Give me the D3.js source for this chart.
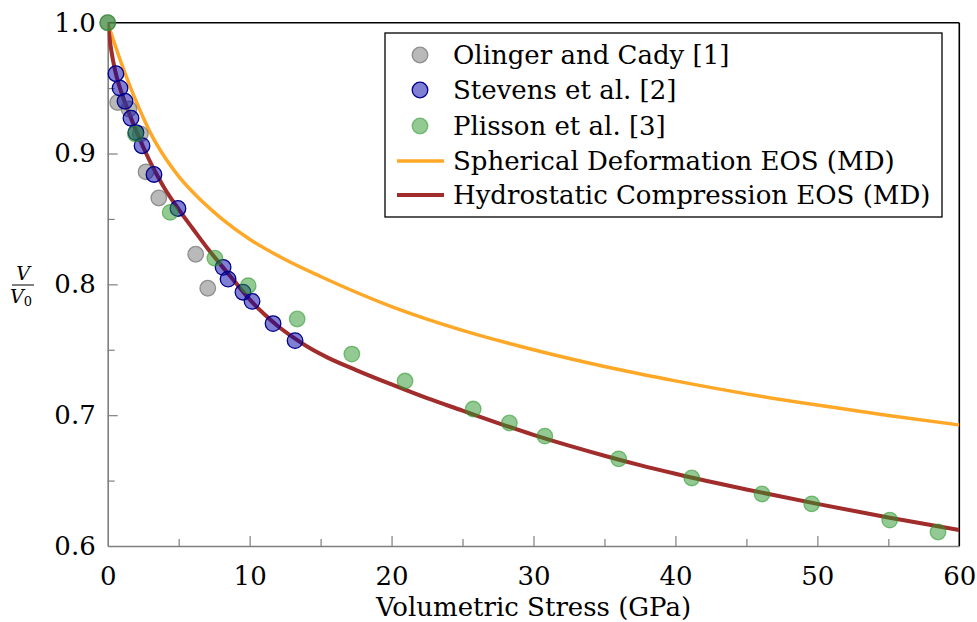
<!DOCTYPE html>
<html>
<head>
<meta charset="utf-8">
<script src="https://cdn.jsdelivr.net/npm/d3@7"></script>
<style>
  html, body { margin: 0; padding: 0; background: #fff; }
  svg { display: block; }
  text { font-family: "DejaVu Serif", serif; fill: #000; }
</style>
</head>
<body>
<svg id="chart" width="977" height="622"></svg>
<script>
// ---- data ----
const olingerX = [0, 0.7, 1.5, 2.3, 2.7, 3.6, 6.2, 7.05];
const olingerY = [1.0, 0.939, 0.934, 0.915, 0.886, 0.866, 0.823, 0.797];

const stevensX = [0.58, 0.87, 1.22, 1.64, 1.99, 2.42, 3.26, 4.95, 8.13, 8.48, 9.53, 10.17, 11.65, 13.2];
const stevensY = [0.961, 0.950, 0.940, 0.927, 0.916, 0.906, 0.884, 0.858, 0.813, 0.804, 0.794, 0.787, 0.770, 0.757];

const plissonX = [0, 1.95, 4.4, 7.55, 9.9, 13.35, 17.2, 20.95, 25.75, 28.3, 30.8, 36.0, 41.15, 46.1, 49.6, 55.1, 58.5];
const plissonY = [1.0, 0.915, 0.855, 0.820, 0.799, 0.7735, 0.7467, 0.7261, 0.7047, 0.694, 0.684, 0.6666, 0.652, 0.6398, 0.6322, 0.6198, 0.6107];

const sphericalX = [0, 0.5, 1, 1.5, 2, 2.5, 3, 4, 5, 6.5, 8, 10, 12.5, 15, 20, 25, 30, 35, 40, 45, 50, 55, 60];
const sphericalY = [1.0, 0.9835, 0.968, 0.9535, 0.940, 0.9275, 0.916, 0.8975, 0.8825, 0.865, 0.8505, 0.8345, 0.819, 0.806, 0.783, 0.7648, 0.750, 0.7372, 0.7262, 0.7163, 0.7077, 0.6998, 0.6925];

const hydroX = [0, 0.25, 0.5, 0.75, 1, 1.5, 2, 2.5, 3, 3.5, 4, 5, 6, 7, 8, 9, 10, 11, 12, 13.2, 14.2, 15.5, 17.5, 20, 22.5, 25, 27.5, 30, 32.5, 35, 37.5, 40, 45, 50, 55, 60];
const hydroY = [1.0, 0.979, 0.9645, 0.954, 0.9455, 0.931, 0.9175, 0.905, 0.8935, 0.883, 0.8735, 0.8573, 0.8425, 0.828, 0.8145, 0.8015, 0.7885, 0.7775, 0.768, 0.7585, 0.7515, 0.744, 0.7345, 0.7235, 0.713, 0.7035, 0.694, 0.685, 0.6767, 0.669, 0.6618, 0.6552, 0.6432, 0.6322, 0.6218, 0.6122];

const xTicks = [0, 10, 20, 30, 40, 50, 60];
const xMinorTicks = [5, 15, 25, 35, 45, 55];
const yTicks = [0.6, 0.7, 0.8, 0.9, 1.0];
const yMinorTicks = [0.65, 0.75, 0.85, 0.95];

const legendLabels = ["Olinger and Cady [1]", "Stevens et al. [2]", "Plisson et al. [3]",
                      "Spherical Deformation EOS (MD)", "Hydrostatic Compression EOS (MD)"];

// ---- layout ----
const svg = d3.select("#chart");
const pLeft = 107.7, pRight = 959.3, pTop = 22.7, pBottom = 546;
const x = d3.scaleLinear().domain([0, 60]).range([pLeft, pRight]);
const y = d3.scaleLinear().domain([0.6, 1.0]).range([pBottom, pTop]);

const axisGray = "#7f7f7f";
const fontSize = 26;

svg.append("defs").append("clipPath").attr("id", "clip")
  .append("rect").attr("x", pLeft).attr("y", pTop).attr("width", pRight - pLeft).attr("height", pBottom - pTop);

const xAxis = svg.append("g").attr("transform", `translate(0,${pBottom})`)
  .call(d3.axisBottom(x).tickValues(xTicks).tickFormat(d3.format("d")).tickSizeInner(-10).tickSizeOuter(0).tickPadding(21));
const xMinor = svg.append("g").attr("transform", `translate(0,${pBottom})`)
  .call(d3.axisBottom(x).tickValues(xMinorTicks).tickFormat("").tickSizeInner(-7).tickSizeOuter(0));
const yAxis = svg.append("g").attr("transform", `translate(${pLeft},0)`)
  .call(d3.axisLeft(y).tickValues(yTicks).tickFormat(d3.format(".1f")).tickSizeInner(-10).tickSizeOuter(0).tickPadding(12));
const yMinor = svg.append("g").attr("transform", `translate(${pLeft},0)`)
  .call(d3.axisLeft(y).tickValues(yMinorTicks).tickFormat("").tickSizeInner(-7).tickSizeOuter(0));

[xAxis, xMinor, yAxis, yMinor].forEach(g => {
  g.selectAll("path.domain").attr("stroke", axisGray).attr("stroke-width", 1.6);
  g.selectAll(".tick line").attr("stroke", axisGray).attr("stroke-width", 1.2);
  g.selectAll(".tick text").attr("font-family", "DejaVu Serif").attr("font-size", fontSize).attr("fill", "#000");
});
xMinor.select("path.domain").remove();
yMinor.select("path.domain").remove();
xAxis.selectAll(".tick").filter(d => d === 0 || d === 60).select("line").remove();
yAxis.selectAll(".tick").filter(d => d === 0.6 || d === 1.0).select("line").remove();

svg.append("line").attr("x1", pLeft).attr("x2", pRight).attr("y1", pTop).attr("y2", pTop)
  .attr("stroke", "#000").attr("stroke-width", 1.6);
svg.append("line").attr("x1", pRight).attr("x2", pRight).attr("y1", pTop).attr("y2", pBottom)
  .attr("stroke", "#000").attr("stroke-width", 1.6);

const line = d3.line().x(d => x(d[0])).y(d => y(d[1])).curve(d3.curveMonotoneX);
const plot = svg.append("g").attr("clip-path", "url(#clip)");
plot.append("path").datum(d3.zip(sphericalX, sphericalY)).attr("d", line)
  .attr("fill", "none").attr("stroke", "#ffa726").attr("stroke-width", 3.5);
plot.append("path").datum(d3.zip(hydroX, hydroY)).attr("d", line)
  .attr("fill", "none").attr("stroke", "#a02c2c").attr("stroke-width", 4);

const styles = [
  { fill: "rgba(128,128,128,0.55)", stroke: "rgba(110,110,110,0.7)" },
  { fill: "rgba(0,0,170,0.5)", stroke: "#00008b" },
  { fill: "rgba(40,150,40,0.5)", stroke: "rgba(40,150,40,0.55)" }
];
const series = [d3.zip(olingerX, olingerY), d3.zip(stevensX, stevensY), d3.zip(plissonX, plissonY)];
const markerG = svg.append("g");
series.forEach((s, i) => {
  markerG.append("g").selectAll("circle").data(s).join("circle")
    .attr("cx", d => x(d[0])).attr("cy", d => y(d[1])).attr("r", 7.8)
    .attr("fill", styles[i].fill).attr("stroke", styles[i].stroke).attr("stroke-width", 1.3);
});

const lg = svg.append("g");
lg.append("rect").attr("x", 385).attr("y", 33).attr("width", 557).attr("height", 184)
  .attr("fill", "#fff").attr("stroke", "#000").attr("stroke-width", 1.3);
const rowY = [55, 90, 126, 161, 195];
legendLabels.forEach((lab, i) => {
  if (i < 3) {
    lg.append("circle").attr("cx", 420).attr("cy", rowY[i]).attr("r", 7.8)
      .attr("fill", styles[i].fill).attr("stroke", styles[i].stroke).attr("stroke-width", 1.3);
  } else {
    lg.append("line").attr("x1", 397).attr("x2", 444).attr("y1", rowY[i]).attr("y2", rowY[i])
      .attr("stroke", i === 3 ? "#ffa726" : "#a02c2c").attr("stroke-width", i === 3 ? 3.5 : 4);
  }
  lg.append("text").attr("x", 453).attr("y", rowY[i]).attr("dy", "0.35em")
    .attr("font-size", fontSize).text(lab);
});

svg.append("text").attr("x", (pLeft + pRight) / 2).attr("y", 616).attr("text-anchor", "middle")
  .attr("font-size", fontSize).text("Volumetric Stress (GPa)");

const fr = svg.append("g").attr("transform", "translate(23,285)");
fr.append("text").attr("x", 0).attr("y", -5).attr("text-anchor", "middle")
  .attr("font-size", 19).attr("font-style", "italic").text("V");
fr.append("line").attr("x1", -11).attr("x2", 11).attr("y1", 0).attr("y2", 0)
  .attr("stroke", "#000").attr("stroke-width", 1);
const den = fr.append("text").attr("x", -2).attr("y", 18).attr("text-anchor", "middle")
  .attr("font-size", 19);
den.append("tspan").attr("font-style", "italic").text("V");
den.append("tspan").attr("font-size", 13).attr("dy", 3).text("0");
</script>
</body>
</html>
